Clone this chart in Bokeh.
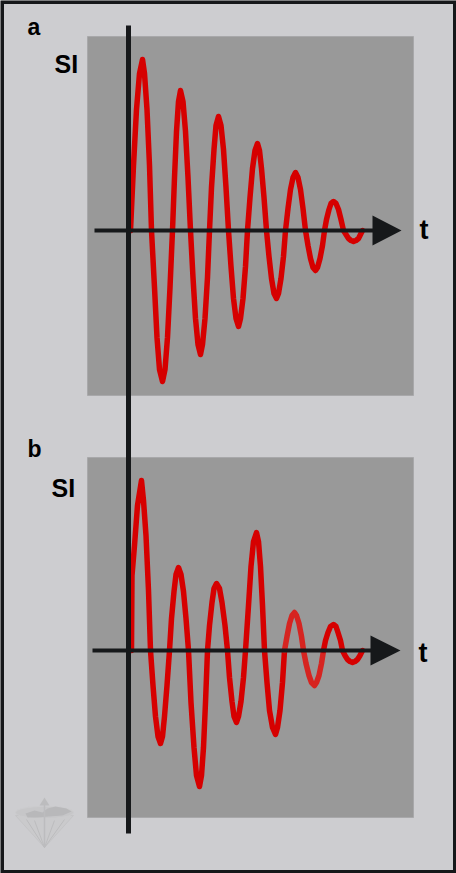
from bokeh.plotting import figure
from bokeh.models import Range1d
from bokeh.core.properties import value
from bokeh.embed import file_html
from bokeh.resources import INLINE

# Signal a: time and signal intensity
t_a = [0, 3, 6, 9, 12, 14, 16.5, 19, 21, 24, 26.5, 29, 32, 34.5, 37, 39.5, 42, 44, 46, 48, 50, 52.5, 55, 57.5, 60,
       62.5, 65, 67.5, 70, 72, 74.5, 77, 79, 81, 83.5, 85.5, 88, 90.5, 93, 95.5, 98, 100.5, 103, 105.5, 108, 110, 112.5, 115, 117,
       119.5, 122, 124.5, 127, 129, 131, 133.5, 136, 138.5, 141, 143.5, 146, 148, 150.5, 153, 155,
       157.5, 160, 162.5, 165, 167.5, 170, 172.5, 175, 177.5, 180, 182.5, 185, 187, 189.5, 192, 194,
       196, 198.5, 200.5, 203, 205.5, 208, 210.5, 213, 215.5, 218, 220.5, 223, 225.5, 228, 230, 232]
si_a = [0, 65, 121, 157, 171, 157, 121, 65, 0, -57, -107, -139, -151, -139, -107, -57, 0, 53, 99, 129, 140, 129, 99, 53, 0,
        -47, -88, -114, -124, -114, -88, -47, 0, 43, 81, 105, 114, 105, 81, 43, 0, -36, -68, -88, -96, -88, -68, -36, 0,
        33, 62, 80, 87, 80, 62, 33, 0, -26, -48, -63, -68, -63, -48, -26, 0,
        22, 41, 53, 58, 53, 41, 22, 0, -15, -28, -37, -40, -37, -28, -15, 0,
        11, 21, 27, 29, 27, 21, 11, 0, -4, -8, -10, -11, -10, -8, -4, 0]

# Signal b, in three stretches because the fifth echo is drawn in a lighter red
t_b1 = [3, 3.5, 6, 9, 13, 15, 17.5, 20, 22, 24.5, 27, 29.5, 32, 34, 36, 38.5, 41, 43, 45.5, 47.5, 50, 52.5, 55, 57.5, 60,
        62.5, 65.5, 68, 71, 73, 75, 77, 79, 81, 83.5, 85.5, 88, 91, 93.5, 96.5, 99, 101, 103.5, 105.5, 108, 110, 112.5, 115, 117,
        120, 122.5, 125, 128, 130, 132, 134, 136, 138.5, 141, 144, 147, 149, 151.5, 154, 156]
si_b1 = [0, 75, 105, 145, 170, 150, 115, 60, 0, -35, -66, -86, -93, -86, -66, -35, 0, 32, 59, 76, 83, 76, 59, 32, 0,
         -52, -97, -125, -136, -125, -97, -52, 0, 25, 48, 62, 67, 62, 48, 25, 0, -27, -51, -66, -72, -66, -51, -27, 0,
         45, 84, 109, 118, 109, 84, 45, 0, -32, -60, -77, -84, -77, -60, -32, 0]
t_b2 = [156, 158.5, 161, 163.5, 166, 168, 170.5, 173, 175, 177.5, 180.5, 183, 186, 188, 190.5, 193, 195]
si_b2 = [0, 14, 27, 35, 38, 35, 27, 14, 0, -13, -25, -32, -35, -32, -25, -13, 0]
t_b3 = [195, 197, 199.5, 202, 205, 207.5, 209.5, 212, 214, 216.5, 219, 221.5, 224, 226.5, 229, 231.5, 234]
si_b3 = [0, 10, 18, 24, 26, 24, 18, 10, 0, -5, -9, -11, -12, -11, -9, -5, 0]

panel_labels = ["a", "b"]
axis_label_si = "SI"
axis_label_t = "t"

BG, PANEL, INK = "#cdcdd0", "#999999", "#16181a"
RED, RED_LIGHT = "#d60000", "#d62420"
LOGO = "#bcbcbe"

W, H = 456, 873

# The figure's main scale is the page, so the layout below is in page pixels
p = figure(width=W, height=H, x_range=(0, W), y_range=(H, 0),
           x_axis_type=None, y_axis_type=None, toolbar_location=None,
           output_backend="svg", min_border=0, outline_line_color=None,
           background_fill_color=BG, border_fill_color=BG)
p.grid.visible = False

# Frame
p.quad(left=[0], right=[W], top=[0], bottom=[H], fill_color=None,
       line_color=INK, line_width=7)

# Panels
p.quad(left=[87, 87], right=[413, 413], top=[36, 457], bottom=[395, 817],
       fill_color=PANEL, line_color="#a8a8aa", line_width=1)

# Logo, faint
p.patch([44, 15, 73], [847, 815, 815], fill_color="#cacacc", line_color="#c4c4c6", line_width=1)
p.ellipse([44], [812], width=58, height=12, fill_color="#c6c6c8", line_color="#cbcbcd")
p.patch([25, 34, 42, 47, 55, 66, 71, 62, 48, 36, 27], [813, 810, 812, 808, 806, 808, 811, 815, 816, 817, 817],
        fill_color="#b8b8ba", line_color=None)
p.segment([44, 44, 44, 44], [847, 847, 847, 847], [26, 34, 54, 64], [819, 820, 820, 819],
          line_color=LOGO, line_width=1)
p.segment([44], [847], [44], [803], line_color=LOGO, line_width=1.5)
p.patch([44, 39, 49], [797, 805, 805], fill_color=LOGO, line_color=None)

# Signal scales: zero time / zero intensity fall on the drawn axes
p.extra_x_ranges = {"ta": Range1d(0 - 130, W - 130), "tb": Range1d(0 - 128, W - 128)}
p.extra_y_ranges = {"sa": Range1d(230 - H, 230), "sb": Range1d(650 - H, 650)}

style = dict(line_width=5.5, line_join="round", line_cap="round")
p.line(t_a, si_a, x_range_name="ta", y_range_name="sa", line_color=RED, **style)
p.line(t_b1, si_b1, x_range_name="tb", y_range_name="sb", line_color=RED, **style)
p.line(t_b2, si_b2, x_range_name="tb", y_range_name="sb", line_color=RED_LIGHT, **style)
p.line(t_b3, si_b3, x_range_name="tb", y_range_name="sb", line_color=RED, **style)

# Axes and arrows
p.segment([128], [25], [128], [833], line_color=INK, line_width=5)
p.segment([94, 92], [230, 650], [375, 373], [230, 650], line_color=INK, line_width=4)
p.patch([372, 401, 372], [215, 230, 245], fill_color=INK, line_color=None)
p.patch([370, 400, 370], [635, 650, 665], fill_color=INK, line_color=None)

# Texts
font = dict(text_font=value("Liberation Sans"), text_font_style="bold", text_color="#000000",
            text_baseline="alphabetic", text_align="left")
p.text([27], [26], text=[panel_labels[0]], text_font_size="23px", **font)
p.text([27], [448], text=[panel_labels[1]], text_font_size="23px", **font)
p.text([54], [63], text=[axis_label_si], text_font_size="25px", **font)
p.text([51], [487], text=[axis_label_si], text_font_size="25px", **font)
p.text([419], [229], text=[axis_label_t], text_font_size="27px", **font)
p.text([418], [652], text=[axis_label_t], text_font_size="27px", **font)

open("out.html", "w").write(file_html(p, INLINE))
